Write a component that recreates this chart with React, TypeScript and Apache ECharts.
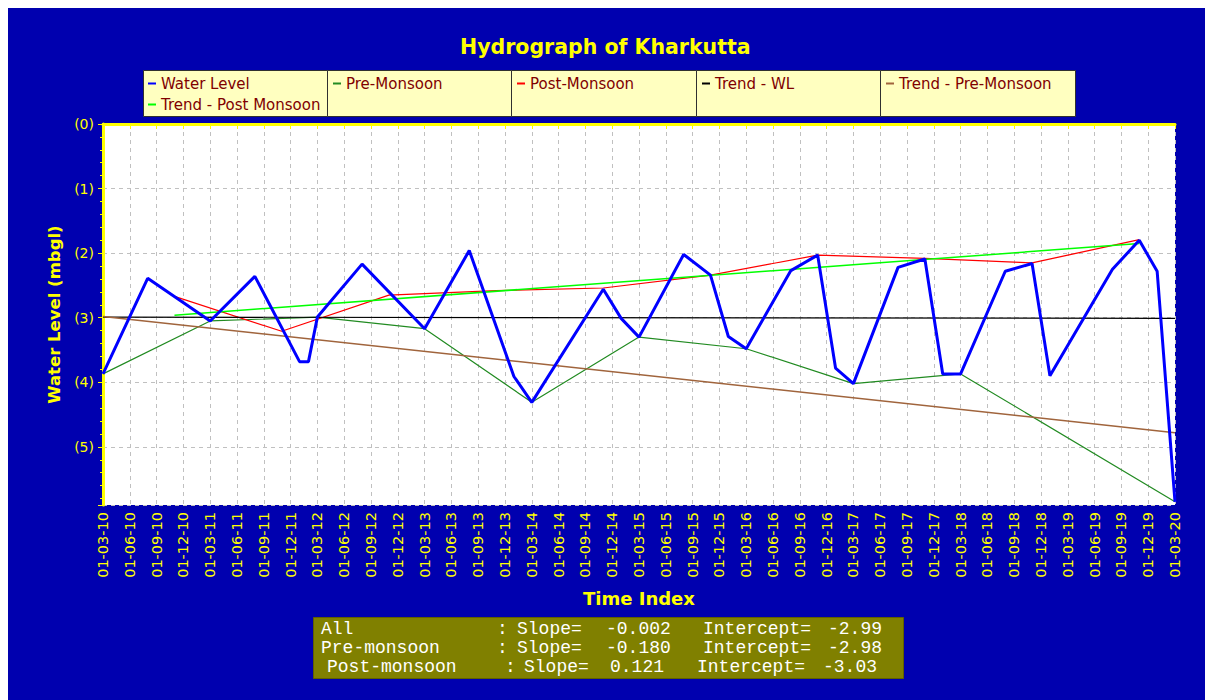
import React, { useEffect, useRef } from 'react';
import * as echarts from 'echarts';

// ---- tick labels (x axis, quarterly) ----
const tickLabels = [
  '01-03-10', '01-06-10', '01-09-10', '01-12-10',
  '01-03-11', '01-06-11', '01-09-11', '01-12-11',
  '01-03-12', '01-06-12', '01-09-12', '01-12-12',
  '01-03-13', '01-06-13', '01-09-13', '01-12-13',
  '01-03-14', '01-06-14', '01-09-14', '01-12-14',
  '01-03-15', '01-06-15', '01-09-15', '01-12-15',
  '01-03-16', '01-06-16', '01-09-16', '01-12-16',
  '01-03-17', '01-06-17', '01-09-17', '01-12-17',
  '01-03-18', '01-06-18', '01-09-18', '01-12-18',
  '01-03-19', '01-06-19', '01-09-19', '01-12-19',
  '01-03-20',
];
const yTickValues = [0, 1, 2, 3, 4, 5];

// ---- water level (mbgl) ----
const waterDates = [
  '2010-03', '2010-08', '2011-03', '2011-08', '2012-01', '2012-02', '2012-03', '2012-08',
  '2013-03', '2013-08', '2014-01', '2014-03', '2014-11', '2015-01', '2015-03', '2015-08',
  '2015-11', '2016-01', '2016-03', '2016-08', '2016-11', '2017-01', '2017-03', '2017-08',
  '2017-11', '2018-01', '2018-03', '2018-08', '2018-11', '2019-01', '2019-08', '2019-11',
  '2020-01', '2020-03',
];
const waterLevels = [
  3.87, 2.39, 3.05, 2.36, 3.68, 3.68, 2.99, 2.17,
  3.17, 1.96, 3.91, 4.31, 2.56, 3.01, 3.30, 2.02,
  2.34, 3.29, 3.48, 2.27, 2.03, 3.78, 4.02, 2.22,
  2.09, 3.87, 3.87, 2.28, 2.16, 3.90, 2.25, 1.80,
  2.28, 5.85,
];

// ---- pre-monsoon ----
const preDates = ['2010-03', '2011-03', '2012-03', '2013-03', '2014-03', '2015-03', '2016-03', '2017-03', '2018-03', '2020-03'];
const preLevels = [3.87, 3.05, 2.99, 3.17, 4.31, 3.30, 3.48, 4.02, 3.87, 5.85];

// ---- post-monsoon ----
const postDates = ['2010-11', '2011-11', '2012-11', '2013-11', '2014-11', '2015-11', '2016-11', '2017-11', '2018-11', '2019-11'];
const postLevels = [2.67, 3.21, 2.65, 2.58, 2.54, 2.34, 2.03, 2.08, 2.15, 1.79];

// ---- trends ----
const trendWLDates = ['2010-03', '2020-03'];
const trendWLLevels = [2.99, 3.01];
const trendPreDates = ['2010-03', '2020-03'];
const trendPreLevels = [2.98, 4.78];
const trendPostDates = ['2010-11', '2019-11'];
const trendPostLevels = [2.96, 1.85];

// ---- statistics box ----
const statNames = ['All', 'Pre-monsoon', 'Post-monsoon'];
const statSlopes = ['-0.002', '-0.180', '0.121'];
const statIntercepts = ['-2.99', '-2.98', '-3.03'];

const legendNames = ['Water Level', 'Pre-Monsoon', 'Post-Monsoon', 'Trend - WL', 'Trend - Pre-Monsoon', 'Trend - Post Monsoon'];

const toMonth = (d: string) => {
  const [y, m] = d.split('-').map(Number);
  return (y - 2010) * 12 + (m - 3);
};
const pairs = (dates: string[], vals: number[]) => dates.map((d, i) => [toMonth(d), vals[i]]);

const YELLOW = '#FFFF00';
const BG = '#0000AF';

export default function App() {
  const ref = useRef<HTMLDivElement>(null);

  useEffect(() => {
    document.documentElement.style.overflow = 'hidden';
    const chart = echarts.init(ref.current!, null, { renderer: 'svg' });

    const legendLayout = [
      { left: 140, top: 68 },
      { left: 325, top: 68 },
      { left: 509, top: 68 },
      { left: 694, top: 68 },
      { left: 878, top: 68 },
      { left: 140, top: 89 },
    ];
    const legends = legendNames.map((name, i) => ({
      data: [name],
      left: legendLayout[i].left,
      top: legendLayout[i].top,
      padding: 0,
      icon: 'rect',
      itemWidth: 8,
      itemHeight: 2,
      selectedMode: false,
      textStyle: { color: '#800000', fontSize: 15, fontFamily: 'DejaVu Sans' },
    }));

    const boxLefts = [135, 319, 503, 688, 872];
    const boxRights = [319, 503, 688, 872, 1067];
    const boxes = boxLefts.map((l, i) => ({
      type: 'rect',
      z: 1,
      shape: { x: l + 0.5, y: 62.5, width: boxRights[i] - l, height: 46 },
      style: { fill: '#FFFFC0', stroke: '#303030', lineWidth: 1 },
    }));

    const statY = [621, 640, 659];
    const statX = [
      [313, 489, 509, 598, 695, 820],
      [313, 489, 509, 598, 695, 820],
      [319, 497, 516, 602, 689, 815],
    ];
    const statTexts: any[] = [];
    statNames.forEach((n, i) => {
      const parts = [n, ':', 'Slope=', statSlopes[i], 'Intercept=', statIntercepts[i]];
      parts.forEach((p, j) => {
        statTexts.push({
          type: 'text',
          z: 3,
          x: statX[i][j],
          y: statY[i],
          style: {
            text: p,
            fill: '#FFFFFF',
            fontSize: 18,
            fontFamily: 'Liberation Mono',
            verticalAlign: 'middle',
            align: 'left',
          },
        });
      });
    });

    const thinLine = (name: string, color: string, data: number[][], width = 1.2) => ({
      name,
      type: 'line',
      data,
      symbol: 'none',
      showSymbol: false,
      color,
      lineStyle: { color, width },
      emphasis: { disabled: true },
    });

    const option: any = {
      animation: false,
      backgroundColor: BG,
      title: {
        text: 'Hydrograph of Kharkutta',
        left: 452,
        top: 28,
        padding: 0,
        textStyle: { color: YELLOW, fontSize: 20.5, fontWeight: 'bold', fontFamily: 'DejaVu Sans' },
      },
      legend: legends,
      grid: {
        left: 95,
        top: 116,
        width: 1072,
        height: 381,
        show: true,
        backgroundColor: '#FFFFFF',
        borderWidth: 0,
      },
      xAxis: [
        {
          type: 'value',
          min: 0,
          max: 120,
          interval: 3,
          name: 'Time Index',
          nameLocation: 'middle',
          nameGap: 84,
          nameTextStyle: { color: YELLOW, fontSize: 18, fontWeight: 'bold', fontFamily: 'DejaVu Sans' },
          axisLine: { show: true, lineStyle: { color: YELLOW, width: 3 } },
          axisTick: { show: true, length: 5, lineStyle: { color: YELLOW, width: 1 } },
          axisLabel: {
            rotate: 90,
            margin: 7,
            color: YELLOW,
            fontSize: 14.5,
            fontFamily: 'DejaVu Sans',
            formatter: (v: number) => {
              const idx = Math.round(v / 3);
              return Math.abs(v - idx * 3) < 1e-6 && tickLabels[idx] ? tickLabels[idx] : '';
            },
          },
          splitLine: { show: true, lineStyle: { color: '#C0C0C0', type: [4, 4], width: 1 } },
        },
        {
          type: 'value',
          position: 'top',
          min: 0,
          max: 120,
          interval: 3,
          axisLine: { show: true, lineStyle: { color: YELLOW, width: 1.5, type: [4, 3] } },
          axisTick: { show: false },
          axisLabel: { show: false },
          splitLine: { show: false },
        },
      ],
      yAxis: [
        {
          type: 'value',
          inverse: true,
          min: 0,
          max: 5.9,
          interval: 1,
          name: 'Water Level (mbgl)',
          nameLocation: 'middle',
          nameGap: 36,
          nameTextStyle: { color: YELLOW, fontSize: 16.5, fontWeight: 'bold', fontFamily: 'DejaVu Sans' },
          axisLine: { show: true, lineStyle: { color: YELLOW, width: 3 } },
          axisTick: { show: true, length: 5, lineStyle: { color: YELLOW, width: 1 } },
          minorTick: { show: true, splitNumber: 5, length: 3, lineStyle: { color: YELLOW, width: 1 } },
          axisLabel: {
            margin: 9,
            color: YELLOW,
            fontSize: 14,
            fontFamily: 'DejaVu Sans',
            formatter: (v: number) => (yTickValues.includes(v) ? `(${v})` : ''),
          },
          splitLine: { show: true, lineStyle: { color: '#C0C0C0', type: [4, 4], width: 1 } },
        },
        {
          type: 'value',
          position: 'right',
          inverse: true,
          min: 0,
          max: 5.9,
          interval: 1,
          axisLine: { show: true, lineStyle: { color: YELLOW, width: 2 } },
          axisTick: { show: false },
          axisLabel: { show: false },
          splitLine: { show: false },
        },
      ],
      series: [
        { ...thinLine('Water Level', '#0000FF', pairs(waterDates, waterLevels), 3), z: 5 },
        thinLine('Pre-Monsoon', '#228B22', pairs(preDates, preLevels)),
        thinLine('Post-Monsoon', '#FF0000', pairs(postDates, postLevels)),
        thinLine('Trend - WL', '#000000', pairs(trendWLDates, trendWLLevels)),
        thinLine('Trend - Pre-Monsoon', '#A0643C', pairs(trendPreDates, trendPreLevels), 1.5),
        thinLine('Trend - Post Monsoon', '#00FF00', pairs(trendPostDates, trendPostLevels), 1.5),
      ],
      graphic: [
        ...boxes,
        {
          type: 'rect',
          z: 1,
          shape: { x: 305.5, y: 609.5, width: 590, height: 61 },
          style: { fill: '#808000', stroke: '#606000', lineWidth: 1 },
        },
        ...statTexts,
      ],
    };

    chart.setOption(option);
    return () => chart.dispose();
  }, []);

  return (
    <div
      ref={ref}
      style={{ position: 'fixed', left: 8, top: 8, width: 1197, height: 692 }}
    />
  );
}
